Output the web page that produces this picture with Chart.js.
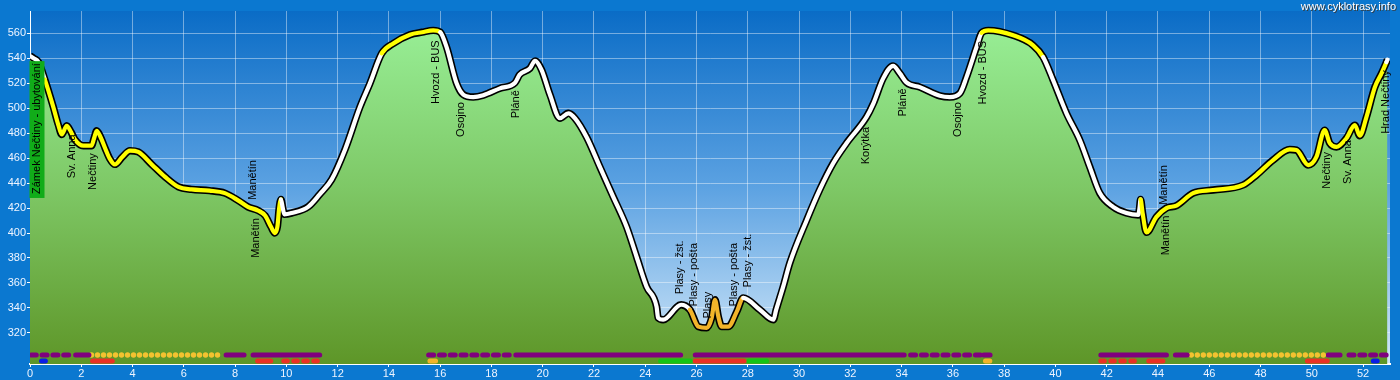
<!DOCTYPE html>
<html>
<head>
<meta charset="utf-8">
<script src="https://cdn.jsdelivr.net/npm/chart.js@4.4.1/dist/chart.umd.min.js"></script>
<style>
  html, body { margin: 0; padding: 0; background: #0b78d0; }
  #wrap { width: 1400px; height: 380px; }
</style>
</head>
<body>
<div id="wrap"><canvas id="profile"></canvas></div>
<script>
// Route profile: distance [km] and elevation [m]
const routeKm = [
  0.00, 0.15, 0.33, 0.58, 0.91, 1.10, 1.24, 1.43, 1.60, 1.75, 2.08, 2.40, 2.50, 2.60, 2.75, 2.93,
  3.10, 3.31, 3.60, 3.90, 4.22, 4.75, 5.27, 5.79, 6.30, 7.00, 7.60, 8.13, 8.50, 8.90, 9.17, 9.40,
  9.55, 9.65, 9.72, 9.79, 9.86, 9.92, 10.20, 10.85, 11.30, 11.77, 12.29, 12.87, 13.26, 13.72, 14.17,
  14.82, 15.30, 15.73, 16.00, 16.25, 16.64, 16.90, 17.29, 17.68, 18.33, 18.92, 19.10, 19.50, 19.70,
  19.95, 20.28, 20.67, 21.00, 21.26, 21.71, 22.23, 22.75, 23.27, 23.66, 24.05, 24.44, 24.50, 24.70,
  25.40, 25.74, 26.07, 26.40, 26.59, 26.72, 26.85, 26.98, 27.24, 27.57, 27.82, 28.47, 29.00, 29.10,
  29.38, 29.64, 30.30, 30.80, 31.33, 31.85, 32.63, 32.90, 33.28, 33.67, 33.93, 34.20, 34.71, 35.49,
  35.88, 36.27, 36.53, 36.92, 37.12, 37.38, 38.35, 39.13, 39.52, 39.91, 40.43, 40.95, 41.34, 41.73,
  42.25, 42.77, 43.23, 43.28, 43.32, 43.40, 43.55, 43.94, 44.33, 44.72, 45.37, 46.15, 47.32, 47.84,
  48.49, 49.14, 49.40, 49.86, 50.18, 50.50, 50.70, 50.96, 51.35, 51.68, 51.87, 52.13, 52.46, 52.72,
  52.91, 52.95,
];
const routeElev = [
  542, 540, 537, 523, 501, 487, 479, 486, 481, 475, 470, 470, 476, 482, 477, 468,
  460, 455, 461, 466, 465, 455, 445, 437, 435, 434, 432, 426, 421, 418, 414, 405,
  400, 405, 420, 427, 420, 415, 416, 421, 431, 443, 467, 501, 520, 544, 552,
  559, 561, 562.5, 561, 549, 520, 511, 509, 510.5, 516, 520.5, 527, 532, 538,
  531, 511, 492, 496, 492, 477, 453, 429, 405, 381, 357, 341, 332, 330.5,
  342.5, 338.5, 325, 324, 332, 346.5, 333, 325, 325, 337, 348, 338.5, 330.5, 338,
  357, 376, 410.5, 434.5, 456, 472, 493, 504, 524, 534, 528, 520.5, 517, 510,
  509, 512, 525, 549, 560.5, 562.5, 558.5, 550.5, 541, 522.5, 496, 474.5, 453, 432,
  421, 416, 414.5, 420, 427, 416, 400.5, 413, 420, 422, 432, 434.5, 438.5, 446.5,
  458.5, 467, 466.5, 454.5, 461, 482.5, 472, 469, 476, 486.5, 478, 493, 517, 528,
  537, 539,
];

// Surface of the route line, valid from the given km onwards
const surfaceFromKm = [0, 0.45, 9.79, 13.72, 15.9, 25.74, 27.6, 37.12, 39.25, 43.32, 52.85];
const surfaceType = ['W', 'Y', 'W', 'Y', 'W', 'O', 'W', 'Y', 'W', 'Y', 'W'];

// Waypoints: name, km, elevation where the (vertical) text ends
const waypointNames = [
  'Sv. Anna', 'Nečtiny', 'Manětín', 'Manětín', 'Hvozd - BUS', 'Osojno', 'Pláně',
  'Plasy - žst.', 'Plasy - pošta', 'Plasy', 'Plasy - pošta', 'Plasy - žst.',
  'Korýtka', 'Pláně', 'Osojno', 'Hvozd - BUS', 'Manětín', 'Manětín',
  'Nečtiny', 'Sv. Anna', 'Hrad Nečtiny',
];
const waypointKm = [
  1.62, 2.47, 8.68, 8.81, 15.83, 16.81, 18.95,
  25.35, 25.9, 26.46, 27.46, 28.0,
  32.6, 34.07, 36.21, 37.19, 44.23, 44.33,
  50.6, 51.42, 52.89,
];
const waypointTop = [
  479, 464, 458.5, 412, 554.5, 505, 514.5,
  394, 392, 353, 392, 399.5,
  485, 516, 505, 554, 454.5, 414,
  465, 474.5, 530.5,
];
const startName = 'Zámek Nečtiny - ubytování';
const startKm = 0.29;
const startTop = 537;

// Strips under the profile: [fromKm, toKm, type]
const stripUpper = [
  [0.05, 1.62, 'p'], [1.78, 2.3, 'P'], [2.4, 7.5, 'y'], [7.65, 8.35, 'P'], [8.7, 11.3, 'P'],
  [15.55, 18.72, 'p'], [18.95, 25.38, 'P'], [25.95, 34.1, 'P'], [34.35, 37.1, 'p'], [37.2, 37.45, 'P'],
  [41.77, 44.33, 'P'], [44.68, 45.14, 'P'], [45.3, 50.45, 'y'], [50.64, 51.1, 'P'], [51.45, 52.9, 'p'],
];
const stripLower = [
  [0.45, 0.6, 'B'], [2.44, 3.21, 'R'], [8.88, 9.39, 'R'], [9.9, 11.3, 'r'], [15.6, 15.82, 'O'],
  [24.6, 25.75, 'G'], [25.95, 27.85, 'R'], [28.05, 28.73, 'G'], [37.27, 37.44, 'O'],
  [41.77, 43.15, 'r'], [43.64, 44.19, 'R'], [49.83, 50.6, 'R'], [52.4, 52.55, 'B'],
];

const xTicks = [0, 2, 4, 6, 8, 10, 12, 14, 16, 18, 20, 22, 24, 26, 28, 30, 32, 34, 36, 38, 40, 42, 44, 46, 48, 50, 52];
const yTicks = [320, 340, 360, 380, 400, 420, 440, 460, 480, 500, 520, 540, 560];

// ---- styles ----
const FONT = '"Liberation Sans", Arial, sans-serif';
const lineColors = { W: '#ffffff', Y: '#ffff00', O: '#f2b42a' };
const stripStyles = {
  P: { color: '#80007e', width: 5, dash: [] },
  p: { color: '#80007e', width: 5, dash: [5, 5.8] },
  y: { color: '#f2c230', width: 5.4, dash: [0, 6] },
  R: { color: '#ea3124', width: 5, dash: [] },
  r: { color: '#ea3124', width: 5, dash: [3.5, 6.5] },
  G: { color: '#16c416', width: 5, dash: [] },
  O: { color: '#f2b42a', width: 5, dash: [] },
  B: { color: '#0a1ee6', width: 5, dash: [] },
};

function surfaceColorAt(km) {
  let type = surfaceType[0];
  surfaceFromKm.forEach((from, i) => {
    if (km >= from - 1e-6) type = surfaceType[i];
  });
  return lineColors[type];
}

function greenFill(context) {
  const area = context.chart.chartArea;
  if (!area) return '#7cc466';
  const g = context.chart.ctx.createLinearGradient(0, area.top, 0, area.bottom);
  g.addColorStop(0, '#9af29a');
  g.addColorStop(0.5, '#7ec866');
  g.addColorStop(1, '#5e9628');
  return g;
}

function stripDatasets(list, row) {
  return list.map(([from, to, type]) => {
    const s = stripStyles[type];
    return {
      data: [{ x: from, y: row }, { x: to, y: row }],
      yAxisID: 'yRows',
      borderColor: s.color,
      borderWidth: s.width,
      borderDash: s.dash,
      borderCapStyle: 'round',
      pointRadius: 0,
      fill: false,
      order: 0,
    };
  });
}

const profilePoints = routeKm.map((km, i) => ({ x: km, y: routeElev[i] }));

// sky background + outer blue
const skyPlugin = {
  id: 'sky',
  beforeDraw(chart) {
    const { ctx, chartArea: a } = chart;
    ctx.save();
    ctx.fillStyle = '#0b78d0';
    ctx.fillRect(0, 0, chart.width, chart.height);
    const g = ctx.createLinearGradient(0, a.top, 0, a.bottom);
    g.addColorStop(0, '#0a6cc6');
    g.addColorStop(0.5, '#5ca2e2');
    g.addColorStop(1, '#d4e9f9');
    ctx.fillStyle = g;
    ctx.fillRect(a.left, a.top, a.right - a.left, a.bottom - a.top);
    ctx.restore();
  },
};

// vertical waypoint names + watermark
const labelsPlugin = {
  id: 'waypoints',
  afterDatasetsDraw(chart) {
    const { ctx } = chart;
    const xs = chart.scales.x;
    const ys = chart.scales.y;
    ctx.save();
    ctx.font = '11px ' + FONT;
    ctx.textAlign = 'right';
    ctx.textBaseline = 'middle';

    // start label in a green box
    const sx = xs.getPixelForValue(startKm);
    const sy = ys.getPixelForValue(startTop);
    const w = ctx.measureText(startName).width;
    ctx.fillStyle = '#11ac19';
    ctx.fillRect(Math.round(sx) - 7.5, sy - 1, 15, w + 6);
    ctx.fillStyle = '#000';
    ctx.save();
    ctx.translate(sx, sy + 1);
    ctx.rotate(-Math.PI / 2);
    ctx.fillText(startName, 0, 0);
    ctx.restore();

    waypointNames.forEach((name, i) => {
      ctx.save();
      ctx.translate(xs.getPixelForValue(waypointKm[i]), ys.getPixelForValue(waypointTop[i]));
      ctx.rotate(-Math.PI / 2);
      ctx.fillText(name, 0, 0);
      ctx.restore();
    });

    ctx.textBaseline = 'middle';
    ctx.fillStyle = '#3a3a3a';
    ctx.fillText('www.cyklotrasy.info', 1397, 8);
    ctx.fillStyle = '#ffffff';
    ctx.fillText('www.cyklotrasy.info', 1396, 7);
    ctx.restore();
  },
};

new Chart(document.getElementById('profile'), {
  type: 'line',
  data: {
    datasets: [
      ...stripDatasets(stripUpper, 1.5),
      ...stripDatasets(stripLower, 0.5),
      {
        data: profilePoints,
        borderColor: '#ffffff',
        borderWidth: 4.2,
        borderCapStyle: 'round',
        borderJoinStyle: 'round',
        segment: { borderColor: (c) => surfaceColorAt(c.p0.parsed.x) },
        cubicInterpolationMode: 'monotone',
        pointRadius: 0,
        fill: false,
        order: 1,
      },
      {
        data: profilePoints,
        borderColor: '#000000',
        borderWidth: 7.4,
        borderJoinStyle: 'round',
        backgroundColor: greenFill,
        cubicInterpolationMode: 'monotone',
        pointRadius: 0,
        fill: 'start',
        order: 2,
      },
    ],
  },
  options: {
    responsive: true,
    maintainAspectRatio: false,
    animation: false,
    events: [],
    layout: { padding: { top: 11, right: 10, left: 0, bottom: 0 } },
    plugins: {
      legend: { display: false },
      tooltip: { enabled: false },
    },
    scales: {
      x: {
        type: 'linear',
        min: 0,
        max: 53.05,
        afterBuildTicks: (scale) => { scale.ticks = xTicks.map((v) => ({ value: v })); },
        afterFit: (scale) => { scale.height = 16; },
        grid: {
          color: 'rgba(255, 255, 255, 0.42)',
          tickColor: '#ffffff',
          tickLength: 3,
        },
        border: { color: '#ffffff', width: 2 },
        ticks: {
          color: '#eef4ff',
          font: { family: FONT, size: 11 },
          padding: 0,
          maxRotation: 0,
          autoSkip: false,
        },
      },
      y: {
        min: 295,
        max: 578,
        afterBuildTicks: (scale) => { scale.ticks = yTicks.map((v) => ({ value: v })); },
        afterFit: (scale) => { scale.width = 30; },
        grid: {
          color: 'rgba(255, 255, 255, 0.42)',
          tickColor: '#ffffff',
          tickLength: 3,
        },
        border: { color: '#ffffff', width: 1 },
        ticks: {
          color: '#eef4ff',
          font: { family: FONT, size: 11 },
          padding: 1,
        },
      },
      yRows: {
        type: 'linear',
        axis: 'y',
        position: 'right',
        display: false,
        min: 0,
        max: 58.9,
      },
    },
  },
  plugins: [skyPlugin, labelsPlugin],
});
</script>
</body>
</html>
